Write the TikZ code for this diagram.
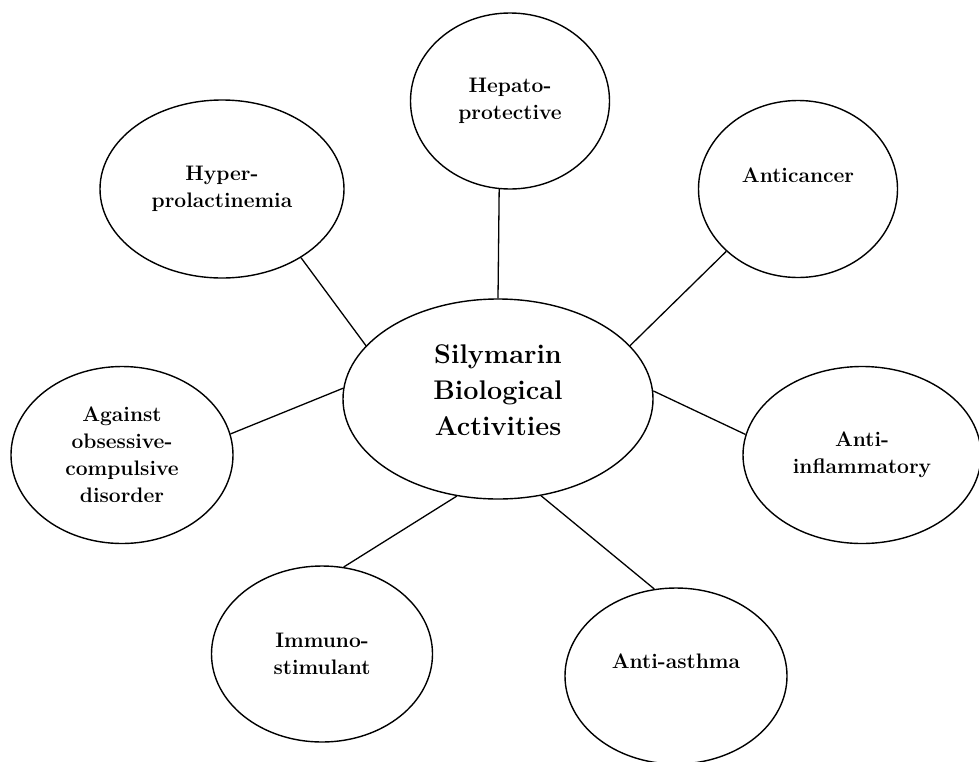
\documentclass[tikz,border=0pt]{standalone}
\usetikzlibrary{shapes.geometric}

\begin{document}
\begin{tikzpicture}[x=1pt,y=-1pt,
	bubble/.style={draw,ellipse,line width=1.4pt,inner sep=0pt,align=center,
		font=\fontsize{21}{27}\selectfont\bfseries},
	hub/.style={bubble,font=\fontsize{27}{36}\selectfont\bfseries},
	spoke/.style={line width=1.3pt}]
	\useasboundingbox (0,0) rectangle (979,761);
	
	\node (C)[hub,minimum width=310pt,minimum height=200pt,text depth=18pt] at (498,399) {Silymarin\\Biological\\Activities};
	
	\node (HP)[bubble,minimum width=199pt,minimum height=176pt] at (510,101) {Hepato-\\protective};
	\node (AC)[bubble,minimum width=199pt,minimum height=177pt,text depth=28pt] at (798,189) {Anticancer};
	\node (AI)[bubble,minimum width=238pt,minimum height=177pt] at (862,455) {Anti-\\inflammatory};
	\node (AA)[bubble,minimum width=222pt,minimum height=176pt,text depth=30pt] at (676,676) {Anti-asthma};
	\node (IS)[bubble,minimum width=221pt,minimum height=176pt] at (322,654) {Immuno-\\stimulant};
	\node (OCD)[bubble,minimum width=222pt,minimum height=177pt] at (122,455) {Against\\obsessive-\\compulsive\\disorder};
	\node (HY)[bubble,minimum width=244pt,minimum height=178pt] at (222,189) {Hyper-\\prolactinemia};
	
	% spokes from the hub
	\draw[spoke] (C.90) -- (HP.263);
	\draw[spoke] (C.22) -- (AC.221);
	\draw[spoke] (C.3) -- (AI.170);
	\draw[spoke] (C.294) -- (AA.104);
	\draw[spoke] (C.247) -- (IS.76);
	\draw[spoke] (C.176) -- (OCD.11);
	\draw[spoke] (C.158) -- (HY.319);
\end{tikzpicture}
\end{document}
